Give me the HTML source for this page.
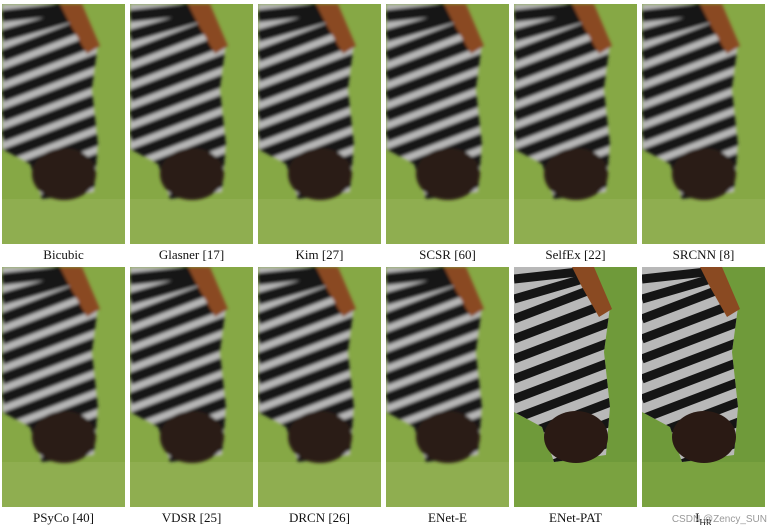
<!DOCTYPE html>
<html><head><meta charset="utf-8"><style>
html{margin:0;padding:0;width:773px;height:529px;overflow:hidden;}
body{margin:0;padding:0;background:#fff;width:773px;height:529px;position:relative;overflow:hidden;font-family:"Liberation Serif",serif;}
.lbl{position:absolute;width:123px;height:14px;line-height:14px;overflow:hidden;text-align:center;font-size:13px;color:#111;}
.lbl sub{font-size:9px;line-height:0;}
.wm{position:absolute;right:6px;bottom:4px;font-family:"Liberation Sans",sans-serif;font-size:10px;line-height:10px;color:#999;}
svg{position:absolute;overflow:hidden;}
</style></head><body>
<div id="root"></div>
<div class="wm">CSDN @Zency_SUN</div>
<script>
const labels=["Bicubic","Glasner [17]","Kim [27]","SCSR [60]","SelfEx [22]","SRCNN [8]","PSyCo [40]","VDSR [25]","DRCN [26]","ENet-E","ENet-PAT","I<sub>HR</sub>"];
const xs=[2,130,258,386,514,642];
const ys=[4,267];
const root=document.getElementById('root');
labels.forEach((t,i)=>{
  const c=i%6,r=Math.floor(i/6);
  const x=xs[c],y=ys[r];
  const sharp=(i===10||i===11);
  let stripes='';
  for(let k=-1;k<11;k++){const yy=k*20;stripes+=`<line x1="0" y1="${yy+32}" x2="110" y2="${Math.max(0,yy-10)}" stroke="#151515" stroke-width="${sharp?9:12}"/>`;}
  const id='c'+i;
  const svg=`<svg width="123" height="240" style="left:${x}px;top:${y}px" viewBox="0 0 123 240">
  <defs><clipPath id="${id}"><path d="M0,0 L78,0 L96,40 L90,85 L96,140 L92,188 L40,195 L28,160 L0,145 Z"/></clipPath>
  ${sharp?'':`<filter id="f${id}"><feGaussianBlur stdDeviation="1.6"/></filter>`}</defs>
  <rect width="123" height="240" fill="${sharp?'#6f9a3a':'#86a845'}"/>
  <rect y="195" width="123" height="45" fill="${sharp?'#7aa240':'#8fae50'}"/>
  <g ${sharp?'':`filter="url(#f${id})"`}>
  <g clip-path="url(#${id})"><rect width="123" height="240" fill="#b8b8b8"/>${stripes}</g>
  <ellipse cx="62" cy="170" rx="32" ry="26" fill="#2a1a14"/>
  <path d="M58,0 L80,0 L98,42 L85,50 L68,20 Z" fill="#8a4a22"/>
  </g></svg>`;
  root.insertAdjacentHTML('beforeend',svg);
  const p=root.lastElementChild;
  
  
  const d=document.createElement('div');
  d.className='lbl';d.style.left=x+'px';d.style.top=(y+244)+'px';
  d.innerHTML=t;
  
  
  root.appendChild(d);
});
</script>
</body></html>
